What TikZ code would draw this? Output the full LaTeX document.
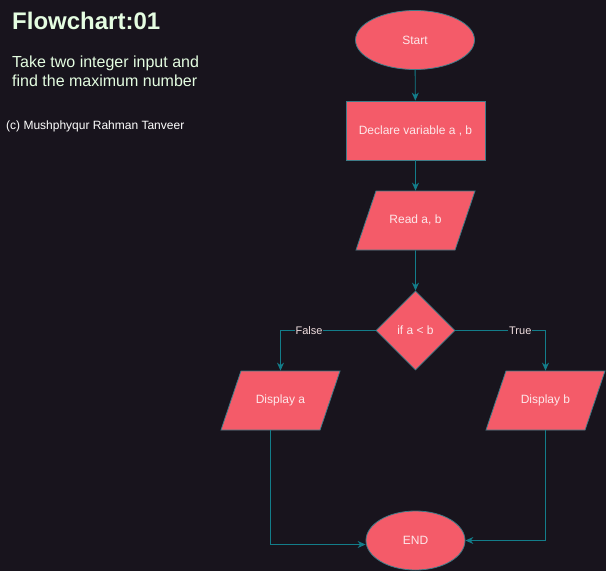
\documentclass[tikz,border=0pt]{standalone}
\usepackage{fontspec}
\setmainfont{Liberation Sans}
\usetikzlibrary{arrows.meta,positioning,shapes.geometric}
\definecolor{canvas}{HTML}{18141D}
\definecolor{blockfill}{HTML}{F45B69}
\definecolor{wire}{HTML}{137D8A}
\definecolor{rim}{HTML}{3F7C88}
\definecolor{inktext}{HTML}{FDE8EA}
\definecolor{headtext}{HTML}{E4FDE1}

\begin{document}
\begin{tikzpicture}[x=1pt, y=-1pt,
  block/.style={draw=rim, fill=blockfill, text=inktext, font=\fontsize{12}{14}\selectfont, inner sep=0pt, line width=0.8pt},
  term/.style={block, ellipse, minimum width=119, minimum height=59},
  proc/.style={block, rectangle, minimum width=139, minimum height=59},
  io/.style={block, trapezium, trapezium left angle=71.3, trapezium right angle=108.7, trapezium stretches body=true, text height=9pt, text depth=3pt, inner ysep=23.5pt, minimum width=119},
  test/.style={block, diamond, minimum width=79, minimum height=79, aspect=1},
  arr/.style={-{Stealth[length=8pt,width=7pt]}, wire, line width=0.9pt},
  lab/.style={fill=canvas, text=inktext!90!gray, font=\fontsize{11}{13}\selectfont, inner sep=1pt}]
  \fill[canvas] (0,0) rectangle (606,571);
  \useasboundingbox (0,0) rectangle (606,571);
  % heading on the left
  \node[anchor=base west, text=headtext, font=\fontsize{24}{28}\selectfont\bfseries, inner sep=0pt] (title) at (12,29) {Flowchart:01};
  \node[anchor=base west, text=headtext, font=\fontsize{16}{19}\selectfont, inner sep=0pt, align=left] (task) at (12,86) {Take two integer input and\\find the maximum number};
  \node[anchor=base west, text=white, font=\fontsize{12}{14}\selectfont, inner sep=0pt] (credit) at (6,129) {(c) Mushphyqur Rahman Tanveer};
  % flow
  \node[term] (start) at (415,40) {Start};
  \node[proc] (decl) at (415.5,130.5) {Declare variable a , b};
  \node[io] (read) at (415.5,220.5) {Read a, b};
  \node[test] (cond) at (415.5,330.5) {if a < b};
  \node[io] (dispa) at (280.5,400.5) {Display a};
  \node[io] (dispb) at (545.5,400.5) {Display b};
  \node[block, ellipse, minimum width=99, minimum height=59] (stop) at (415.5,540.5) {END};
  \draw[arr] (start) -- (decl);
  \draw[arr] (decl) -- (read);
  \draw[arr] (read) -- (cond);
  \draw[arr] (cond.west) -| node[lab, pos=0.35]{False} (dispa.north);
  \draw[arr] (cond.east) -| node[lab, pos=0.36]{True} (dispb.north);
  \draw[arr] (dispa.bottom side) |- ([yshift=-4pt]stop.west);
  \draw[arr] (dispb.south) |- (stop.east);
\end{tikzpicture}
\end{document}
